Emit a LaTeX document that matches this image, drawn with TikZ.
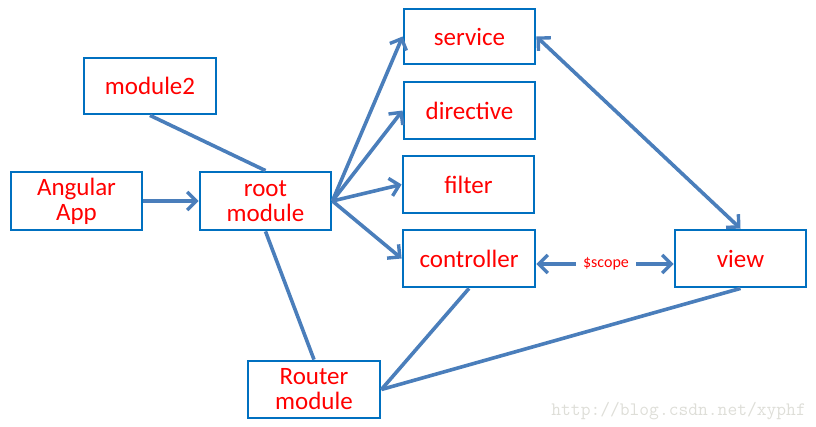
\documentclass[tikz,border=0pt]{standalone}
\usepackage{fontspec}
\setmainfont{Carlito}
\usetikzlibrary{arrows.meta}
\definecolor{boxblue}{RGB}{0,112,192}
\definecolor{linkblue}{RGB}{74,126,187}
\definecolor{wmgray}{RGB}{222,222,216}
\tikzset{
  box/.style={draw=boxblue, line width=2.8pt, fill=white, inner sep=0pt,
    text=red, align=center, font=\fontsize{25}{25}\selectfont},
  link/.style={draw=linkblue, line width=3.6pt},
  arr/.style={link, -{Straight Barb[length=9pt,width=18pt,line width=3.4pt]}},
  darr/.style={link, {Straight Barb[length=9pt,width=18pt,line width=3.4pt]}-{Straight Barb[length=9pt,width=18pt,line width=3.4pt]}}
}
\begin{document}
\begin{tikzpicture}[x=1pt,y=-1pt]
\useasboundingbox (0,0) rectangle (816,427);
\node[box, minimum width=132pt, minimum height=56pt] (module2) at (150,86) {module2};
\node[box, minimum width=131pt, minimum height=58pt] (angular) at (76.5,201) {Angular\\App};
\node[box, minimum width=131pt, minimum height=58pt] (root) at (265.5,201) {root\\module};
\node[box, minimum width=131pt, minimum height=55pt] (service) at (469.5,36.5) {service};
\node[box, minimum width=131pt, minimum height=57pt] (directive) at (469.5,110.5) {directive};
\node[box, minimum width=131pt, minimum height=57pt] (filter) at (468.5,184.5) {filter};
\node[box, minimum width=132pt, minimum height=57pt] (controller) at (469,258.5) {controller};
\node[box, minimum width=131pt, minimum height=57pt] (view) at (740.5,258.5) {view};
\node[box, minimum width=132pt, minimum height=57pt] (router) at (314,389.5) {Router\\module};
\node[text=red, font=\fontsize{16}{18}\selectfont, inner sep=7pt] (scope) at (606,264) {\$scope};
\node[text=wmgray, font=\ttfamily\fontsize{19}{20}\selectfont, anchor=base east, inner sep=0pt] (wm) at (806,415) {http://blog.csdn.net/xyphf};

\draw[link] (module2.south) -- (root.north);
\draw[arr] (angular.east) -- (root.west);
\draw[arr] (root.east) -- (service.west);
\draw[arr] (root.east) -- (directive.west);
\draw[arr] (root.east) -- (filter.west);
\draw[arr] (root.east) -- (controller.west);
\draw[link] (root.south) -- (router.north);
\draw[link] (controller.south) -- (router.east);
\draw[link] (view.south) -- (router.east);
\draw[darr] (service.east) -- (view.north);
\draw[arr] (scope.west) -- (scope.west -| controller.east);
\draw[arr] (scope.east) -- (scope.east -| view.west);
\end{tikzpicture}
\end{document}
